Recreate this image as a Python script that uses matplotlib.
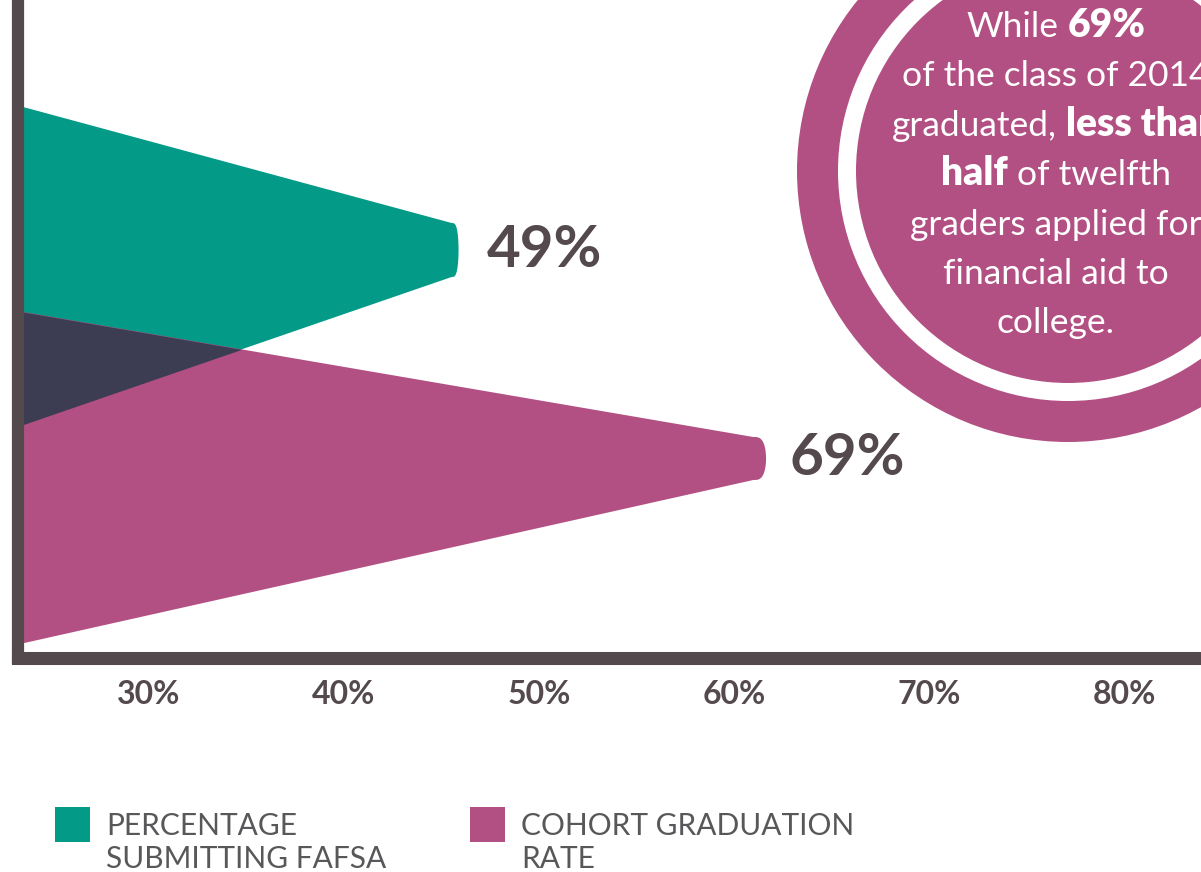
import matplotlib.pyplot as plt
from matplotlib.patches import Circle, Rectangle, Polygon
import numpy as np

plt.rcParams['font.family'] = ['Lato', 'DejaVu Sans']

# series shown as two tapering wedges
series = ["PERCENTAGE\nSUBMITTING FAFSA", "COHORT GRADUATION\nRATE"]
values = [49, 69]
colors = ["#039a87", "#b35083"]
overlap_color = "#3c3d52"
ink = "#544a4e"

tick_values = [30, 40, 50, 60, 70, 80]
tick_labels = ["30%", "40%", "50%", "60%", "70%", "80%"]

callout = [
    [("While", "normal"), ("69%", "heavy")],
    [("of the class of 2014", "normal")],
    [("graduated,", "normal"), ("less than", "heavy")],
    [("half", "heavy"), ("of twelfth", "normal")],
    [("graders applied for", "normal")],
    [("financial aid to", "normal")],
    [("college.", "normal")],
]

W, H = 1201, 872
fig = plt.figure(figsize=(W / 100, H / 100), dpi=100)

# plot area: left edge / axis line in pixels
left_px, base_px = 17.6, 657.5
ax = fig.add_axes([left_px / W, 1 - base_px / H, 1 - left_px / W, base_px / H])
x_lo, x_hi = 20.32, 97.29
ax.set_xlim(x_lo, x_hi)
ax.set_ylim(0, base_px)

# wedge outline (y in pixels above the axis line)
base_top = [552.0, 346.5]
base_bot = [231.0, 13.0]
tip_top = [434.5, 220.5]
tip_bot = [380.5, 177.5]
cap_w = [0.45, 0.83]


def wedge(value, bt, bb, tt, tb, cap):
    corner = value - cap
    mid, half = (tt + tb) / 2, (tt - tb) / 2
    t = np.linspace(np.pi / 2, -np.pi / 2, 40)
    arc_x = corner + cap * np.cos(t) ** 0.6
    arc_y = mid + half * np.sin(t)
    xs = np.concatenate([[x_lo, corner], arc_x, [corner, x_lo]])
    ys = np.concatenate([[bt, tt], arc_y, [tb, bb]])
    return np.column_stack([xs, ys])


for i, v in enumerate(values):
    pts = wedge(v, base_top[i], base_bot[i], tip_top[i], tip_bot[i], cap_w[i])
    ax.add_patch(Polygon(pts, closed=True, facecolor=colors[i], edgecolor='none', zorder=1))

# where the two wedges overlap
xs = np.linspace(x_lo, values[0] - cap_w[0], 500)
teal_lower = np.interp(xs, [x_lo, values[0] - cap_w[0]], [base_bot[0], tip_bot[0]])
pink_upper = np.interp(xs, [x_lo, values[1] - cap_w[1]], [base_top[1], tip_top[1]])
ax.fill_between(xs, teal_lower, pink_upper, where=pink_upper > teal_lower,
                interpolate=True, color=overlap_color, lw=0, zorder=2)

offsets = [20, 17]
for i, v in enumerate(values):
    ax.annotate(f"{v}%", xy=(v, (tip_top[i] + tip_bot[i]) / 2), xytext=(offsets[i], 0),
                textcoords='offset points', ha='left', va='center',
                fontsize=42, fontweight='bold', color=ink)

for side in ['top', 'right']:
    ax.spines[side].set_visible(False)
ax.spines['left'].set_linewidth(8.8)
ax.spines['bottom'].set_linewidth(9.4)
for side in ['left', 'bottom']:
    ax.spines[side].set_color(ink)
    ax.spines[side].set_capstyle('projecting')
    ax.spines[side].set_zorder(5)
ax.set_xticks([])
ax.set_yticks([])
ax.patch.set_visible(False)

# printed percentage scale along the bottom
scale_lo, scale_hi = 23.29, 83.92


def to_scale(v):
    return scale_lo + (np.asarray(v) - x_lo) * (scale_hi - scale_lo) / (x_hi - x_lo)


def from_scale(s):
    return x_lo + (np.asarray(s) - scale_lo) * (x_hi - x_lo) / (scale_hi - scale_lo)


sec = ax.secondary_xaxis('bottom', functions=(to_scale, from_scale))
sec.set_xticks(tick_values, labels=tick_labels)
sec.tick_params(length=0, pad=16, labelsize=23, labelcolor=ink)
for lab in sec.get_xticklabels():
    lab.set_fontweight('bold')
sec.spines['bottom'].set_visible(False)

# overlay in pixel coordinates for the callout and the key
ov = fig.add_axes([0, 0, 1, 1])
ov.set_xlim(0, W)
ov.set_ylim(H, 0)
ov.axis('off')
ov.patch.set_visible(False)

cx, cy = 1068, 171
ov.add_patch(Circle((cx, cy), 271, color=colors[1], lw=0))
ov.add_patch(Circle((cx, cy), 230, color='white', lw=0))
ov.add_patch(Circle((cx, cy), 212, color=colors[1], lw=0))

renderer = fig.canvas.get_renderer()


def text_width(s, weight, size):
    t = ov.text(0, 0, s, fontsize=size, fontweight=weight)
    w = t.get_window_extent(renderer).width
    t.remove()
    return w


size = 25.5
bold_size = size * 1.1
space = 1.1 * (text_width("x x", 'normal', size) - text_width("xx", 'normal', size))
text_cx, first_base, pitch = 1056, 37, 49.4
for row, parts in enumerate(callout):
    sizes = [bold_size if wt != 'normal' else size for _, wt in parts]
    widths = [text_width(s, wt, sz) for (s, wt), sz in zip(parts, sizes)]
    total = sum(widths) + space * (len(parts) - 1)
    x = text_cx - total / 2
    y = first_base + row * pitch
    for (s, wt), sz, w in zip(parts, sizes, widths):
        ov.text(x, y, s, fontsize=sz, fontweight=wt, color='white',
                ha='left', va='baseline')
        x += w + space

# key
key_x = [55, 470]
for i, name in enumerate(series):
    ov.add_patch(Rectangle((key_x[i], 807), 35, 35, color=colors[i], lw=0))
    for j, line in enumerate(name.split("\n")):
        ov.text(key_x[i] + 51, 835 + j * 33, line, fontsize=21.5, color="#58585a",
                ha='left', va='baseline')

fig.savefig("out.png", dpi=100)
